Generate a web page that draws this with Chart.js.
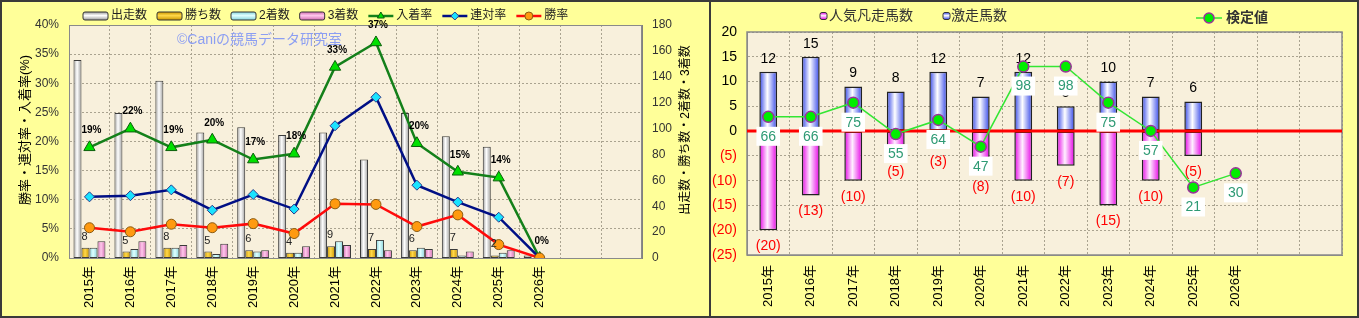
<!DOCTYPE html>
<html>
<head>
<meta charset="utf-8">
<script src="https://cdn.jsdelivr.net/npm/chart.js@4.4.1/dist/chart.umd.min.js"></script>
<style>
html, body { margin: 0; padding: 0; background: #ffff99; }
#wrap { position: relative; width: 1359px; height: 318px; overflow: hidden; background: #ffff99; }
#c1 { position: absolute; left: 0; top: 0; }
#c2 { position: absolute; left: 711px; top: 0; }
#divider { position: absolute; left: 709px; top: 0; width: 2px; height: 318px; background: #3a3a3a; }
#frame { position: absolute; left: 0; top: 0; width: 1359px; height: 318px; box-sizing: border-box; border: 2px solid #3a3a3a; pointer-events: none; }
</style>
</head>
<body>
<div id="wrap">
  <canvas id="c1" width="709" height="318"></canvas>
  <canvas id="c2" width="648" height="318"></canvas>
  <div id="divider"></div>
  <div id="frame"></div>
</div>
<script>
// ---- data ----
const years = ['2015年', '2016年', '2017年', '2018年', '2019年', '2020年', '2021年', '2022年', '2023年', '2024年', '2025年', '2026年', '', ''];

// left chart: counts (right axis) and rates in % (left axis)
const runners = [153, 112, 137, 97, 101, 95, 97, 76, 112, 94, 86, 2];
const wins = [8, 5, 8, 5, 6, 4, 9, 7, 6, 7, 2, 0];
const seconds = [8, 7, 8, 3, 5, 4, 13, 14, 8, 2, 4, 0];
const thirds = [13, 13, 10, 11, 6, 9, 10, 6, 7, 5, 6, 0];
const placeRate = [19.0, 22.2, 19.0, 20.3, 16.9, 17.9, 32.8, 37.0, 19.7, 14.8, 13.8, 0];
const quinellaRate = [10.5, 10.7, 11.7, 8.2, 10.9, 8.4, 22.7, 27.6, 12.5, 9.6, 7.0, 0];
const winRate = [5.2, 4.5, 5.8, 5.2, 5.9, 4.2, 9.3, 9.2, 5.4, 7.4, 2.3, 0];

// right chart
const hitHorses = [12, 15, 9, 8, 12, 7, 12, 5, 10, 7, 6, null];
const flopHorses = [-20, -13, -10, -5, -3, -8, -10, -7, -15, -10, -5, null];
const testValues = [66, 66, 75, 55, 64, 47, 98, 98, 75, 57, 21, 30];

const FONT = '"Liberation Sans", "Noto Sans CJK JP", sans-serif';
Chart.defaults.font.family = FONT;
Chart.defaults.color = '#333';

// horizontal gradient for a bar, computed from the category scale
function barFill(edge, mid, slot, slots, catPct, barPct) {
  return function (c) {
    if (c.type !== 'data') return edge;
    const x = c.chart.scales.x;
    if (!x || !x.width) return edge;
    const cw = x.width / x.getLabels().length;
    const gw = cw * catPct;
    const sw = gw / slots;
    const bw = sw * barPct;
    const cx = x.getPixelForValue(c.dataIndex);
    const x0 = cx - gw / 2 + slot * sw + (sw - bw) / 2;
    const g = c.chart.ctx.createLinearGradient(x0, 0, x0 + bw, 0);
    g.addColorStop(0, edge);
    g.addColorStop(0.45, mid);
    g.addColorStop(1, edge);
    return g;
  };
}

function legendBar(ctx, x, y, w, h, edge, mid) {
  const g = ctx.createLinearGradient(0, y - h / 2, 0, y + h / 2);
  g.addColorStop(0, edge);
  g.addColorStop(0.45, mid);
  g.addColorStop(1, edge);
  ctx.fillStyle = g;
  ctx.strokeStyle = '#333';
  ctx.lineWidth = 1;
  ctx.beginPath();
  ctx.roundRect(x, y - h / 2, w, h, 2);
  ctx.fill();
  ctx.stroke();
}

function legendLine(ctx, x, y, w, ds, r) {
  ctx.strokeStyle = ds.borderColor;
  ctx.lineWidth = ds.borderWidth;
  ctx.beginPath();
  ctx.moveTo(x, y);
  ctx.lineTo(x + w, y);
  ctx.stroke();
  ctx.fillStyle = ds.pointBackgroundColor;
  ctx.strokeStyle = ds.pointBorderColor;
  ctx.lineWidth = ds.pointBorderWidth;
  Chart.helpers.drawPoint(ctx, {pointStyle: ds.pointStyle || 'circle', radius: r, rotation: 0, borderWidth: ds.pointBorderWidth}, x + w / 2, y);
}

function vTitle(ctx, text, x, y, font) {
  ctx.save();
  ctx.translate(x, y);
  ctx.rotate(-Math.PI / 2);
  ctx.font = font;
  ctx.fillStyle = '#000';
  ctx.textAlign = 'center';
  ctx.textBaseline = 'middle';
  ctx.fillText(text, 0, 0);
  ctx.restore();
}

const plotBg = '#f8f0dc';
const gridColor = '#aaa390';

const barStyles = [
  {edge: '#9c9c9c', mid: '#ffffff'},
  {edge: '#c99500', mid: '#ffd84a'},
  {edge: '#86d4dc', mid: '#e0ffff'},
  {edge: '#d26cb2', mid: '#ffc8ec'}
];

// ---------------- left chart ----------------
const leftDecor = {
  id: 'leftDecor',
  beforeDraw(chart) {
    const {ctx, chartArea: a} = chart;
    ctx.save();
    ctx.fillStyle = plotBg;
    ctx.fillRect(a.left, a.top, a.right - a.left, a.bottom - a.top);
    ctx.restore();
  },
  beforeDatasetsDraw(chart) {
    const {ctx, chartArea: a} = chart;
    ctx.save();
    ctx.strokeStyle = '#8a8a8a';
    ctx.lineWidth = 1;
    ctx.strokeRect(a.left + 0.5, a.top + 0.5, a.right - a.left - 1, a.bottom - a.top);
    ctx.font = '14px ' + FONT;
    ctx.fillStyle = '#8c9ef2';
    ctx.textBaseline = 'middle';
    ctx.fillText('©Caniの競馬データ研究室', 177, 40);
    ctx.restore();
  },
  afterDatasetsDraw(chart) {
    const ctx = chart.ctx;
    ctx.save();
    ctx.textAlign = 'center';
    ctx.textBaseline = 'middle';
    // win counts above the gold bars
    ctx.font = '11px ' + FONT;
    ctx.fillStyle = '#222';
    chart.getDatasetMeta(1).data.forEach((el, i) => {
      if (!wins[i]) return;
      ctx.fillText(String(wins[i]), el.x - 1, el.y - 11);
    });
    // place-rate labels above the green line
    ctx.font = 'bold 10px ' + FONT;
    ctx.fillStyle = '#000';
    chart.getDatasetMeta(4).data.forEach((p, i) => {
      if (placeRate[i] == null) return;
      ctx.fillText(Math.round(placeRate[i]) + '%', p.x + 2, p.y - 17);
    });
    ctx.restore();
  },
  afterDraw(chart) {
    const ctx = chart.ctx;
    const ds = chart.data.datasets;
    const y = 16;
    let x = 83;
    ctx.save();
    ctx.font = '12px ' + FONT;
    ctx.textBaseline = 'middle';
    ctx.textAlign = 'left';
    ds.forEach((d, i) => {
      if (i < 4) legendBar(ctx, x, y, 25, 8, barStyles[i].edge, barStyles[i].mid);
      else legendLine(ctx, x, y, 25, d, 4);
      ctx.fillStyle = '#222';
      ctx.fillText(d.label, x + 28, y);
      x += 28 + ctx.measureText(d.label).width + 10;
    });
    ctx.restore();
    vTitle(ctx, '勝率・連対率・入着率(%)', 25, 130, '13px ' + FONT);
    vTitle(ctx, '出走数・勝ち数・2着数・3着数', 686, 130, '12px ' + FONT);
  }
};

function leftBar(label, data, k) {
  return {
    label: label,
    data: data,
    yAxisID: 'y1',
    order: 4,
    backgroundColor: barFill(barStyles[k].edge, barStyles[k].mid, k, 4, 0.78, 1),
    borderColor: '#3a3a3a',
    borderWidth: 1,
    borderSkipped: false,
    categoryPercentage: 0.78,
    barPercentage: 1
  };
}

new Chart(document.getElementById('c1'), {
  type: 'bar',
  data: {
    labels: years,
    datasets: [
      leftBar('出走数', runners, 0),
      leftBar('勝ち数', wins, 1),
      leftBar('2着数', seconds, 2),
      leftBar('3着数', thirds, 3),
      {
        type: 'line', label: '入着率', data: placeRate, yAxisID: 'y', order: 3,
        borderColor: '#14801a', borderWidth: 2.5,
        pointStyle: 'triangle', pointRadius: 6.5,
        pointBackgroundColor: '#00e000', pointBorderColor: '#0b5e0b', pointBorderWidth: 1
      },
      {
        type: 'line', label: '連対率', data: quinellaRate, yAxisID: 'y', order: 2,
        borderColor: '#000f85', borderWidth: 2.5,
        pointStyle: 'rectRot', pointRadius: 5,
        pointBackgroundColor: '#19e3ff', pointBorderColor: '#2a3a8a', pointBorderWidth: 1
      },
      {
        type: 'line', label: '勝率', data: winRate, yAxisID: 'y', order: 1,
        borderColor: '#ff0a0a', borderWidth: 2.5,
        pointStyle: 'circle', pointRadius: 5,
        pointBackgroundColor: '#ff9a10', pointBorderColor: '#8a5a10', pointBorderWidth: 1
      }
    ]
  },
  options: {
    responsive: false,
    animation: false,
    devicePixelRatio: 1,
    layout: {padding: {top: 25, left: 0, right: 0, bottom: 0}},
    plugins: {legend: {display: false}, tooltip: {enabled: false}},
    scales: {
      x: {
        grid: {color: gridColor, drawTicks: false},
        border: {color: '#808080', dash: [2, 2]},
        ticks: {color: '#000', font: {size: 13}, minRotation: 90, maxRotation: 90, autoSkip: false, padding: 8},
        afterFit: s => { s.height = 60; }
      },
      y: {
        position: 'left', min: 0, max: 40,
        grid: {color: gridColor, drawTicks: false},
        border: {color: '#808080', dash: [2, 2]},
        ticks: {stepSize: 5, callback: v => v + '%', padding: 10, font: {size: 12}, color: '#333'},
        afterFit: s => { s.width = 69; }
      },
      y1: {
        position: 'right', min: 0, max: 180,
        grid: {display: false, drawTicks: false},
        border: {color: '#808080'},
        ticks: {stepSize: 20, padding: 10, font: {size: 12}, color: '#333'},
        afterFit: s => { s.width = 67; }
      }
    }
  },
  plugins: [leftDecor]
});

// ---------------- right chart ----------------
const rightDecor = {
  id: 'rightDecor',
  beforeDraw(chart) {
    const {ctx, chartArea: a} = chart;
    ctx.save();
    ctx.fillStyle = plotBg;
    ctx.fillRect(a.left, a.top, a.right - a.left, a.bottom - a.top);
    ctx.restore();
  },
  beforeDatasetsDraw(chart) {
    const {ctx, chartArea: a} = chart;
    ctx.save();
    ctx.strokeStyle = '#8a8a8a';
    ctx.lineWidth = 1.5;
    ctx.strokeRect(a.left, a.top, a.right - a.left, a.bottom - a.top);
    ctx.restore();
  },
  beforeDatasetDraw(chart, args) {
    if (args.index !== 2) return;
    const {ctx, chartArea: a} = chart;
    ctx.save();
    ctx.textAlign = 'center';
    ctx.textBaseline = 'middle';
    ctx.font = '14px ' + FONT;
    ctx.fillStyle = '#000';
    chart.getDatasetMeta(1).data.forEach((el, i) => {
      if (hitHorses[i] == null) return;
      ctx.fillText(String(hitHorses[i]), el.x, el.y - 13);
    });
    ctx.fillStyle = '#ff0000';
    chart.getDatasetMeta(0).data.forEach((el, i) => {
      if (flopHorses[i] == null) return;
      ctx.fillText('(' + (-flopHorses[i]) + ')', el.x, el.y + 16);
    });
    // zero line
    const y0 = chart.scales.y.getPixelForValue(0);
    ctx.strokeStyle = '#ff0000';
    ctx.lineWidth = 3;
    ctx.beginPath();
    ctx.moveTo(a.left, y0);
    ctx.lineTo(a.right, y0);
    ctx.stroke();
    ctx.restore();
  },
  afterDatasetsDraw(chart) {
    const ctx = chart.ctx;
    ctx.save();
    ctx.textAlign = 'center';
    ctx.textBaseline = 'middle';
    ctx.font = '14px ' + FONT;
    chart.getDatasetMeta(2).data.forEach((p, i) => {
      if (testValues[i] == null) return;
      const t = String(testValues[i]);
      const w = ctx.measureText(t).width;
      ctx.fillStyle = '#ffffff';
      ctx.fillRect(p.x - w / 2 - 4, p.y + 20 - 10, w + 8, 19);
      ctx.fillStyle = '#2e9a74';
      ctx.fillText(t, p.x, p.y + 20);
    });
    ctx.restore();
  },
  afterDraw(chart) {
    const ctx = chart.ctx;
    const ds = chart.data.datasets;
    ctx.save();
    ctx.textBaseline = 'middle';
    ctx.textAlign = 'left';
    ctx.font = '14px ' + FONT;
    legendBar(ctx, 109, 16, 7, 7, '#e600e6', '#fff0ff');
    ctx.fillStyle = '#333';
    ctx.fillText(ds[0].label, 118, 16);
    legendBar(ctx, 232, 16, 7, 7, '#3346e8', '#ffffff');
    ctx.fillStyle = '#333';
    ctx.fillText(ds[1].label, 240, 16);
    legendLine(ctx, 485, 18, 26, ds[2], 5);
    ctx.font = 'bold 14px ' + FONT;
    ctx.fillStyle = '#333';
    ctx.fillText(ds[2].label, 515, 18);
    ctx.restore();
  }
};

function rightBar(label, data, edge, mid) {
  return {
    label: label,
    data: data,
    order: 1,
    backgroundColor: barFill(edge, mid, 0, 1, 0.84, 0.5),
    borderColor: '#222',
    borderWidth: 1.5,
    borderSkipped: false,
    categoryPercentage: 0.84,
    barPercentage: 0.5
  };
}

new Chart(document.getElementById('c2'), {
  type: 'bar',
  data: {
    labels: years,
    datasets: [
      rightBar('人気凡走馬数', flopHorses, '#e600e6', '#fff0ff'),
      rightBar('激走馬数', hitHorses, '#3346e8', '#ffffff'),
      {
        type: 'line', label: '検定値', data: testValues, yAxisID: 'y2', order: 0,
        borderColor: '#33e633', borderWidth: 1.5,
        pointStyle: 'circle', pointRadius: 5.5,
        pointBackgroundColor: '#00ee00', pointBorderColor: '#993399', pointBorderWidth: 1.5
      }
    ]
  },
  options: {
    responsive: false,
    animation: false,
    devicePixelRatio: 1,
    layout: {padding: {top: 32, left: 0, right: 17, bottom: 0}},
    plugins: {legend: {display: false}, tooltip: {enabled: false}},
    scales: {
      x: {
        stacked: true,
        grid: {color: gridColor, drawTicks: false},
        border: {color: '#888', dash: [2, 2]},
        ticks: {color: '#000', font: {size: 13}, minRotation: 90, maxRotation: 90, autoSkip: false, padding: 10},
        afterFit: s => { s.height = 63; }
      },
      y: {
        stacked: true, min: -25, max: 20,
        grid: {color: gridColor, drawTicks: false},
        border: {color: '#888', dash: [2, 2]},
        ticks: {
          stepSize: 5, padding: 10, font: {size: 14},
          callback: v => (v < 0 ? '(' + (-v) + ')' : String(v)),
          color: c => (c.tick && c.tick.value < 0 ? '#ff0000' : '#000')
        },
        afterFit: s => { s.width = 36; }
      },
      y2: {display: false, min: -22, max: 120}
    }
  },
  plugins: [rightDecor]
});
</script>
</body>
</html>
